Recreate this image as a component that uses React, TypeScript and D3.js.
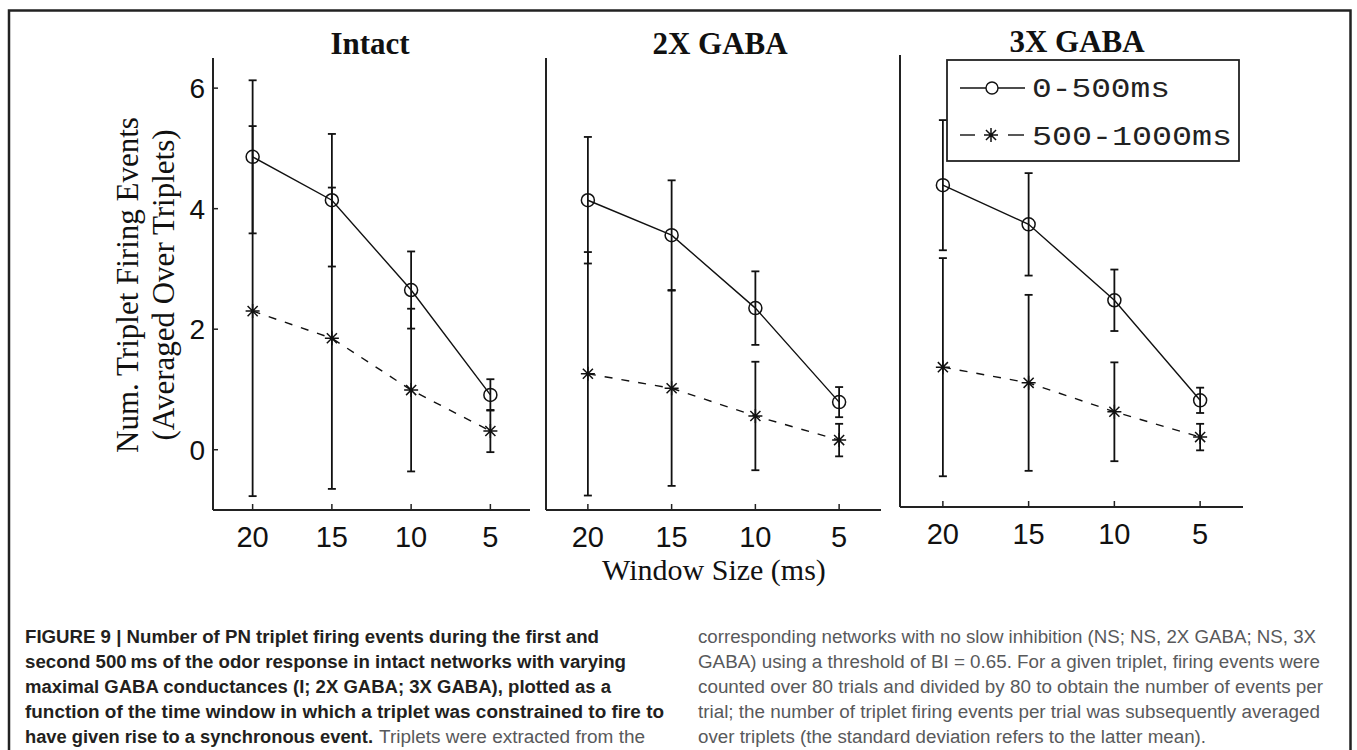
import React from "react";
import * as d3 from "d3";

// ---------- data ----------
const windowSizes = [20, 15, 10, 5];
const xTickLabels = ["20", "15", "10", "5"];
const yTicks = [0, 2, 4, 6];
const panelTitles = ["Intact", "2X GABA", "3X GABA"];
const seriesNames = ["0-500ms", "500-1000ms"];

const intactEarly = [4.86, 4.14, 2.65, 0.91];
const intactEarlySd = [1.27, 1.1, 0.64, 0.26];
const intactLate = [2.3, 1.85, 0.99, 0.31];
const intactLateSd = [3.07, 2.5, 1.35, 0.35];

const gaba2Early = [4.14, 3.56, 2.35, 0.79];
const gaba2EarlySd = [1.05, 0.91, 0.61, 0.25];
const gaba2Late = [1.26, 1.02, 0.56, 0.16];
const gaba2LateSd = [2.02, 1.62, 0.9, 0.27];

const gaba3Early = [4.34, 3.69, 2.43, 0.77];
const gaba3EarlySd = [1.08, 0.85, 0.51, 0.21];
const gaba3Late = [1.32, 1.06, 0.58, 0.16];
const gaba3LateSd = [1.81, 1.46, 0.82, 0.22];

const captionLeft = [
  "FIGURE 9 | Number of PN triplet firing events during the first and",
  "second 500\u2009ms of the odor response in intact networks with varying",
  "maximal GABA conductances (I; 2X GABA; 3X GABA), plotted as a",
  "function of the time window in which a triplet was constrained to fire to",
];
const captionLeftLastBold = "have given rise to a synchronous event.";
const captionLeftLastRest = "Triplets were extracted from the";
const captionRight = [
  "corresponding networks with no slow inhibition (NS; NS, 2X GABA; NS, 3X",
  "GABA) using a threshold of BI = 0.65. For a given triplet, firing events were",
  "counted over 80 trials and divided by 80 to obtain the number of events per",
  "trial; the number of triplet firing events per trial was subsequently averaged",
  "over triplets (the standard deviation refers to the latter mean).",
];

// ---------- layout ----------
const panels = [
  { left: 213, right: 530, top: 58, bottom: 510, titleX: 370, titleY: 54, early: intactEarly, earlySd: intactEarlySd, late: intactLate, lateSd: intactLateSd, yAxisTicks: true },
  { left: 546, right: 881, top: 58, bottom: 510, titleX: 720, titleY: 54, early: gaba2Early, earlySd: gaba2EarlySd, late: gaba2Late, lateSd: gaba2LateSd, yAxisTicks: false },
  { left: 900, right: 1243, top: 55, bottom: 507, titleX: 1077, titleY: 52, early: gaba3Early, earlySd: gaba3EarlySd, late: gaba3Late, lateSd: gaba3LateSd, yAxisTicks: false },
];

const leftLineEnds = [599, 626, 611, 664];
const rightLineEnds = [1316, 1320, 1323, 1320, 1206];

const starPath = (cx: number, cy: number, r: number) => {
  const d = r * 0.72;
  return `M${cx - r},${cy}L${cx + r},${cy}M${cx},${cy - r}L${cx},${cy + r}M${cx - d},${cy - d}L${cx + d},${cy + d}M${cx - d},${cy + d}L${cx + d},${cy - d}`;
};

function Panel({ p, idx }: { p: any; idx: number }) {
  const x = d3.scaleLinear().domain([22.5, 2.5]).range([p.left, p.right]);
  const y = d3.scaleLinear().domain([-1, 6.5]).range([p.bottom, p.top]);
  const line = d3
    .line<number>()
    .x((_, i) => x(windowSizes[i]))
    .y((v) => y(v));
  const cap = 4;
  const errBars = (vals: number[], sds: number[], key: string) =>
    vals.map((v, i) => {
      const cx = x(windowSizes[i]);
      const y1 = y(v + sds[i]);
      const y2 = y(v - sds[i]);
      return (
        <g key={key + i} stroke="#111" strokeWidth={1.8}>
          <line x1={cx} x2={cx} y1={y1} y2={y2} />
          <line x1={cx - cap} x2={cx + cap} y1={y1} y2={y1} />
          <line x1={cx - cap} x2={cx + cap} y1={y2} y2={y2} />
        </g>
      );
    });
  return (
    <g>
      <text x={p.titleX} y={p.titleY} textAnchor="middle" fontFamily="'Liberation Serif', 'DejaVu Serif', serif" fontWeight="bold" fontSize={31} fill="#111">
        {panelTitles[idx]}
      </text>
      {/* axes */}
      <line x1={p.left} x2={p.left} y1={p.top} y2={p.bottom} stroke="#222" strokeWidth={2} />
      <line x1={p.left} x2={p.right} y1={p.bottom} y2={p.bottom} stroke="#222" strokeWidth={2} />
      {windowSizes.map((w, i) => (
        <g key={"xt" + i}>
          <line x1={x(w)} x2={x(w)} y1={p.bottom} y2={p.bottom - 6} stroke="#222" strokeWidth={1.5} />
          <text x={x(w)} y={p.bottom + 37} textAnchor="middle" fontFamily="'Liberation Sans', Arial, sans-serif" fontSize={29} fill="#111">
            {xTickLabels[i]}
          </text>
        </g>
      ))}
      {p.yAxisTicks &&
        yTicks.map((t) => (
          <g key={"yt" + t}>
            <line x1={p.left} x2={p.left + 5} y1={y(t)} y2={y(t)} stroke="#222" strokeWidth={1.5} />
            <text x={p.left - 8} y={y(t)} dy="0.36em" textAnchor="end" fontFamily="'Liberation Sans', Arial, sans-serif" fontSize={28} fill="#111">
              {t}
            </text>
          </g>
        ))}
      {/* lines */}
      <path d={line(p.early) || ""} fill="none" stroke="#111" strokeWidth={1.4} />
      <path d={line(p.late) || ""} fill="none" stroke="#111" strokeWidth={1.4} strokeDasharray="8,9" />
      {errBars(p.late, p.lateSd, "l")}
      {errBars(p.early, p.earlySd, "e")}
      {p.early.map((v: number, i: number) => (
        <circle key={"c" + i} cx={x(windowSizes[i])} cy={y(v)} r={6.5} fill="none" stroke="#111" strokeWidth={1.5} />
      ))}
      {p.late.map((v: number, i: number) => (
        <path key={"s" + i} d={starPath(x(windowSizes[i]), y(v), 7)} stroke="#111" strokeWidth={1.5} fill="none" />
      ))}
    </g>
  );
}

export default function App() {
  const serif = "'Liberation Serif', 'DejaVu Serif', serif";
  const caption = "'Liberation Sans Narrow', 'Liberation Sans', Arial, sans-serif";
  const capBase = [643, 668, 693, 718, 743];
  return (
    <svg width={1357} height={750} style={{ position: "absolute", left: 0, top: 0, background: "#fff" }}>
      <rect x={0} y={0} width={1357} height={750} fill="#fff" />
      {/* frame */}
      <path d="M9,760 L9,10.5 L1350.5,10.5 L1350.5,760" fill="none" stroke="#222" strokeWidth={2.5} />

      {panels.map((p, i) => (
        <Panel key={i} p={p} idx={i} />
      ))}

      {/* y label */}
      <g fontFamily={serif} fontSize={31} fill="#111" textAnchor="middle">
        <text transform="translate(138,285) rotate(-90)">Num. Triplet Firing Events</text>
        <text transform="translate(174,285) rotate(-90)">(Averaged Over Triplets)</text>
      </g>
      {/* x label */}
      <text x={714} y={580} textAnchor="middle" fontFamily={serif} fontSize={30} fill="#111">
        Window Size (ms)
      </text>

      {/* legend */}
      <g>
        <rect x={947} y={60} width={292} height={101} fill="#fff" stroke="#222" strokeWidth={1.8} />
        <line x1={960} x2={1025} y1={88} y2={88} stroke="#111" strokeWidth={1.4} />
        <circle cx={992} cy={88} r={6} fill="#fff" stroke="#111" strokeWidth={1.4} />
        <text x={1032} y={97} fontFamily="'Liberation Mono', 'DejaVu Sans Mono', monospace" fontSize={27} textLength={138} lengthAdjust="spacingAndGlyphs" fill="#222">
          {seriesNames[0]}
        </text>
        <line x1={960} x2={975} y1={135} y2={135} stroke="#111" strokeWidth={1.4} />
        <line x1={1008} x2={1024} y1={135} y2={135} stroke="#111" strokeWidth={1.4} />
        <path d={starPath(991, 135, 7)} stroke="#111" strokeWidth={1.5} fill="none" />
        <text x={1032} y={145} fontFamily="'Liberation Mono', 'DejaVu Sans Mono', monospace" fontSize={27} textLength={200} lengthAdjust="spacingAndGlyphs" fill="#222">
          {seriesNames[1]}
        </text>
      </g>

      {/* caption */}
      <g fontFamily={caption} fontSize={18}>
        {captionLeft.map((t, i) => (
          <text key={"cl" + i} x={25} y={capBase[i]} fontWeight="bold" fill="#231f20" textLength={leftLineEnds[i] - 25} lengthAdjust="spacingAndGlyphs">
            {t}
          </text>
        ))}
        <text x={25} y={capBase[4]} fontWeight="bold" fill="#231f20" textLength={373 - 25} lengthAdjust="spacingAndGlyphs">
          {captionLeftLastBold}
        </text>
        <text x={379} y={capBase[4]} fill="#58595b" textLength={645 - 379} lengthAdjust="spacingAndGlyphs">
          {captionLeftLastRest}
        </text>
        {captionRight.map((t, i) => (
          <text key={"cr" + i} x={698} y={capBase[i]} fill="#58595b" textLength={rightLineEnds[i] - 698} lengthAdjust="spacingAndGlyphs">
            {t}
          </text>
        ))}
      </g>
    </svg>
  );
}
